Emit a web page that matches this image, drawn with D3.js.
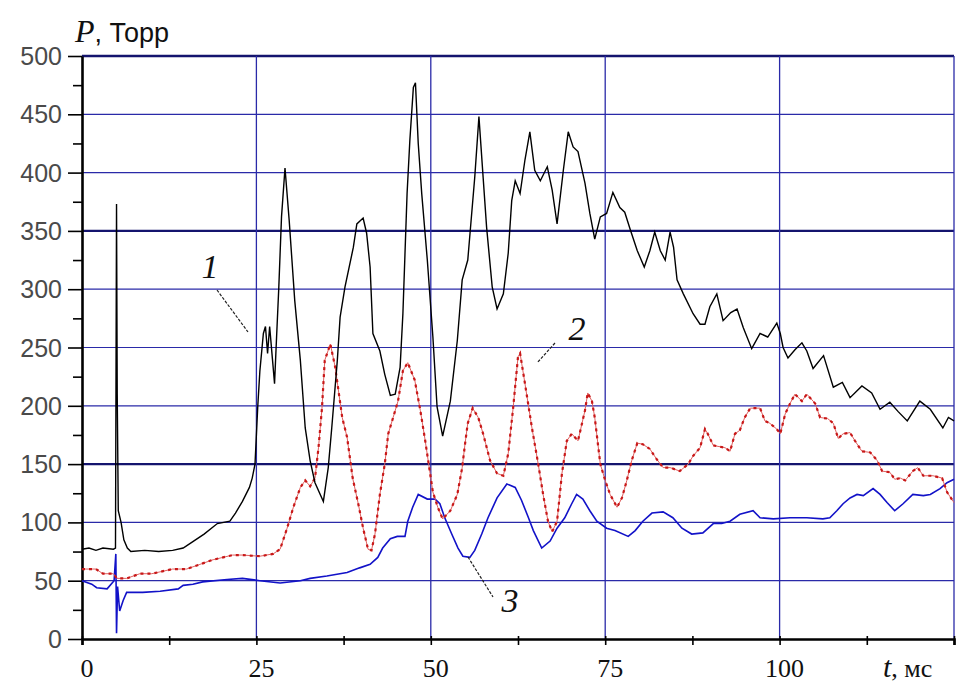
<!DOCTYPE html>
<html><head><meta charset="utf-8">
<script src="https://cdn.jsdelivr.net/npm/d3@7"></script>
<style>body{margin:0;background:#fff}svg{display:block}</style>
</head><body>
<svg id="c" width="963" height="685"></svg>
<script>
const xTicks = [0, 25, 50, 75, 100];
const yTicks = [0, 50, 100, 150, 200, 250, 300, 350, 400, 450, 500];

const curve1 = [[0,77],[1,78],[2,76],[3,78],[4.5,77],[4.8,78],[4.95,373],[5.05,210],[5.2,110],[5.6,100],[6,85],[6.5,78],[7,75],[9,76],[11,75],[13,76],[14.5,78],[16,84],[17.5,90],[19.4,99],[21.2,101],[22,108],[23,118],[24,130],[24.4,138],[24.8,150],[25.2,200],[25.5,230],[26,262],[26.3,268],[26.6,245],[26.9,268],[27.3,240],[27.6,219],[27.9,260],[28.2,300],[28.6,362],[29.1,404],[29.7,359],[30.5,290],[31.3,239],[32,181],[32.7,153],[33.4,134],[34.6,118],[35.3,147],[35.8,181],[36.6,239],[37,276],[37.7,302],[38.9,336],[39.4,356],[40.3,361],[40.8,348],[41.3,319],[41.7,262],[42.7,247],[43.4,227],[44.2,209],[44.9,210],[45.6,233],[46,279],[46.6,382],[47,428],[47.5,473],[47.8,477],[48.2,425],[48.7,382],[49.5,325],[50.3,259],[50.9,199],[51.7,174],[52.8,204],[53.8,256],[54.5,308],[55.3,325],[56.3,396],[56.9,448],[57.5,396],[58,353],[58.8,302],[59.5,283],[60.4,296],[61.1,331],[61.6,376],[62.1,393],[62.8,382],[63.5,411],[64.2,435],[64.9,402],[65.7,393],[66.7,405],[67.4,385],[68.1,356],[69,402],[69.7,435],[70.4,422],[71.1,418],[72.1,391],[72.8,365],[73.5,343],[74.3,362],[75.2,365],[76.1,383],[77.1,370],[77.8,366],[78.6,351],[79.6,333],[80.6,319],[81.4,333],[82.1,349],[82.9,333],[83.6,325],[84.3,349],[84.8,336],[85.3,308],[86.2,296],[87.6,279],[88.6,270],[89.3,270],[90,285],[91,296],[91.9,273],[93,280],[93.9,283],[94.8,267],[96,249],[97.2,262],[98.3,259],[99.6,271],[100.1,262],[100.5,250],[101.2,241],[102.2,248],[103.2,254],[103.9,247],[104.8,232],[106.3,243],[107.7,216],[109,220],[110.1,207],[111.8,217],[113.2,211],[114.4,197],[115.8,203],[117,195],[118.3,187],[120.1,204],[121.6,197],[123.4,181],[124.2,190],[125,187]];

const curve2 = [[0,60],[2,60],[3,56],[4.5,56],[5,52],[6.4,52],[8.3,56],[10,56],[13,60],[15,60],[16.9,64],[18.8,68],[21.6,72],[23,72],[25.5,71],[27.4,73],[28.4,77],[29.4,95],[30.3,113],[31.3,130],[32,136],[32.7,131],[33.4,138],[33.9,164],[34.4,198],[34.8,239],[35.6,253],[36.3,233],[37.3,190],[38,173],[38.8,138],[39.6,116],[40.3,95],[41,77],[41.5,76],[42,90],[42.7,124],[43.4,150],[43.9,176],[44.6,190],[45.3,204],[46,230],[46.7,237],[47.7,222],[48.5,196],[49.2,170],[49.9,142],[50.3,126],[51,113],[51.7,103],[52.8,110],[53.8,124],[54.5,147],[54.9,167],[55.3,185],[56,198],[56.8,190],[57.5,176],[58.5,153],[59.5,142],[60.4,140],[61.1,159],[61.8,198],[62.5,242],[62.8,245],[63.5,219],[64.5,181],[65.4,150],[66.1,124],[66.8,101],[67.4,92],[68.1,101],[68.8,142],[69.5,170],[70.2,176],[71.1,170],[72.1,196],[72.5,211],[73.1,204],[73.5,190],[74.3,150],[75,136],[75.7,124],[76.7,113],[77.4,121],[78.1,136],[78.8,153],[79.6,168],[80.4,167],[81.4,163],[82.4,154],[83.3,147],[84.3,147],[85.7,144],[86.9,150],[87.6,157],[88.6,164],[89.3,180],[89.7,176],[90.5,166],[92.2,164],[92.9,161],[93.6,176],[94.3,179],[95,190],[95.8,198],[97.2,198],[97.9,187],[98.6,185],[99.6,180],[100.1,176],[100.8,193],[101.5,202],[102.2,210],[103.2,204],[103.9,210],[105.1,202],[105.8,190],[106.9,189],[107.7,185],[108.4,172],[109.1,176],[110.1,177],[110.8,170],[111.8,161],[113,160],[114,153],[114.7,144],[115.8,143],[116.5,137],[117.3,138],[118,136],[119.1,144],[119.8,147],[120.6,140],[122,140],[123.3,138],[124,126],[125,117]];

const curve3 = [[0,50],[1.4,47],[2.1,44],[3.6,43],[4.6,50],[4.85,73],[4.95,5],[5.1,45],[5.4,24],[5.9,33],[6.4,40],[8.7,40],[11.2,41],[13.8,43],[14.5,46],[15.9,47],[17.3,49],[20.8,51],[23,52],[25.5,50],[28.4,48],[31.3,50],[32.7,52],[35.1,54],[38,57],[39.8,61],[41.3,64],[42.4,70],[43.1,78],[44.2,86],[45.2,88],[46.3,88],[46.7,101],[47.4,113],[48.2,124],[49.5,120],[50.6,120],[51.3,116],[52,104],[53,90],[53.9,78],[54.6,71],[55.6,70],[56.3,76],[57.3,90],[58.2,104],[59.5,121],[60.9,133],[62.1,130],[63,119],[64,104],[64.7,93],[65.9,78],[67.1,84],[68.1,95],[69.2,104],[70.2,116],[70.9,124],[71.8,120],[72.8,110],[73.8,101],[75.2,95],[76.4,93],[78.3,88],[79.3,93],[80.4,101],[81.7,108],[83.3,109],[84.7,104],[86,95],[87.4,90],[89,91],[90.5,99],[91.7,99],[92.9,101],[94.3,107],[96.2,110],[97.2,104],[99.1,103],[101.5,104],[103.9,104],[106.2,103],[107.2,104],[108.2,110],[109.1,116],[110.1,121],[111.1,124],[112,123],[113.4,129],[114.4,124],[115.4,117],[116.5,110],[117.7,116],[119.1,124],[120.6,123],[121.6,124],[123,129],[124,134],[125,137]];

const svg = d3.select("#c");
const x = d3.scaleLinear().domain([0,125]).range([82,954]);
const y = d3.scaleLinear().domain([0,500]).range([639,56]);

// grid
const g = svg.append("g");
yTicks.filter(v=>v>0).forEach(v=>{
  const thick = (v===150||v===350||v===500);
  g.append("line").attr("x1",x(0)).attr("x2",x(125)).attr("y1",y(v)).attr("y2",y(v))
   .attr("stroke", thick? "#14146e":"#2a2aa8").attr("stroke-width", thick?2.4:1.2);
});
[25,50,75,100,125].forEach(v=>{
  g.append("line").attr("x1",x(v)).attr("x2",x(v)).attr("y1",y(0)).attr("y2",y(500))
   .attr("stroke","#2a2aa8").attr("stroke-width",1.3);
});

// axes
const xAxis = d3.axisBottom(x).tickValues(d3.range(0,126,12.5)).tickSize(6).tickFormat("");
const ax = svg.append("g").attr("transform",`translate(0,${y(0)})`).call(xAxis);
ax.select(".domain").attr("stroke","#000").attr("stroke-width",2.6);
ax.selectAll(".tick line").attr("stroke","#000").attr("stroke-width",1.6).attr("y1",-3).attr("y2",6);
const yAxis = d3.axisLeft(y).tickValues(d3.range(0,501,25)).tickSizeOuter(0).tickFormat("");
const ay = svg.append("g").attr("transform",`translate(${x(0)},0)`).call(yAxis);
ay.select(".domain").attr("stroke","#000").attr("stroke-width",2.6);
ay.selectAll(".tick line").attr("stroke","#000").attr("stroke-width",1.6)
  .attr("x2", d => d%50===0 ? -14 : -9);

// tick labels
svg.selectAll(".yl").data(yTicks).enter().append("text")
  .attr("x",62).attr("y",d=>y(d)+9).attr("text-anchor","end")
  .attr("font-family","Liberation Sans, Arial, sans-serif").attr("font-size",25)
  .attr("fill","#4a4a4a").text(d=>d);
svg.selectAll(".xl").data(xTicks).enter().append("text")
  .attr("x",d=>x(d)+5).attr("y",677).attr("text-anchor","middle")
  .attr("font-family","Liberation Serif, Times New Roman, serif").attr("font-size",26)
  .attr("fill","#111").text(d=>d);

// axis titles
const ty = svg.append("text").attr("x",75).attr("y",42).attr("font-size",26).attr("fill","#111");
ty.append("tspan").attr("font-family","Liberation Serif, serif").attr("font-style","italic").attr("font-size",32).text("P");
ty.append("tspan").attr("font-family","Liberation Sans, Arial, sans-serif").attr("font-size",27).text(", Торр");
const tx = svg.append("text").attr("x",883).attr("y",677).attr("font-size",26).attr("fill","#111")
  .attr("font-family","Liberation Serif, serif");
tx.append("tspan").attr("font-style","italic").attr("font-size",30).text("t");
tx.append("tspan").text(", мс");

// lines
const line = d3.line().x(d=>x(d[0])).y(d=>y(d[1]));
svg.append("path").datum(curve3).attr("d",line).attr("fill","none").attr("stroke","#1212c8").attr("stroke-width",1.6);
svg.append("path").datum(curve2).attr("d",line).attr("fill","none").attr("stroke","#e06060").attr("stroke-width",1);
svg.append("path").datum(curve2).attr("d",line).attr("fill","none").attr("stroke","#c81818").attr("stroke-width",2.2).attr("stroke-dasharray","3,4");
svg.append("path").datum(curve1).attr("d",line).attr("fill","none").attr("stroke","#000").attr("stroke-width",1.4);

// annotations
const ann = [
  {label:"1", tx:210, ty:278, x1:217, y1:290, x2:248, y2:332},
  {label:"2", tx:577, ty:340, x1:555, y1:343, x2:537, y2:363},
  {label:"3", tx:510, ty:612, x1:468, y1:557, x2:493, y2:597}
];
ann.forEach(a=>{
  svg.append("line").attr("x1",a.x1).attr("y1",a.y1).attr("x2",a.x2).attr("y2",a.y2)
    .attr("stroke","#222").attr("stroke-width",1.2).attr("stroke-dasharray","3,1.5");
  svg.append("text").attr("x",a.tx).attr("y",a.ty).attr("text-anchor","middle")
    .attr("font-family","Liberation Serif, serif").attr("font-style","italic").attr("font-size",34)
    .attr("fill","#111").text(a.label);
});
</script>
</body></html>
